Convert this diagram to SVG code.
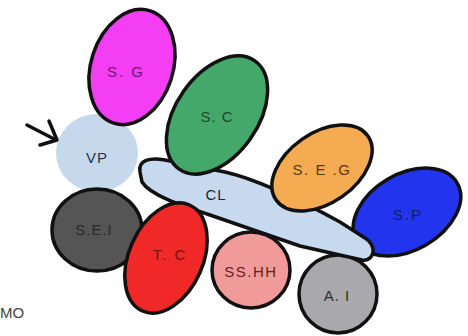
<svg xmlns="http://www.w3.org/2000/svg" width="468" height="336" viewBox="0 0 468 336">
<style>
.n{stroke:#111;stroke-width:3.5}
.t{font-family:"Liberation Sans",Arial,sans-serif;font-size:15px;text-anchor:middle;letter-spacing:1px}
</style>
<rect width="468" height="336" fill="#ffffff"/>
<g id="VP"><ellipse cx="97" cy="153" rx="41" ry="39" fill="#c6d9ec"/><text class="t" x="97" y="163" fill="#2a3440">VP</text></g>
<g id="SG"><ellipse class="n" cx="132" cy="67" rx="41" ry="59" transform="rotate(18 132 67)" fill="#f43ef4"/><text class="t" x="126" y="77" fill="#6e1a70" style="letter-spacing:2px">S. G</text></g>
<g id="SP"><ellipse class="n" cx="407" cy="212" rx="58" ry="38" transform="rotate(-30 407 212)" fill="#2234ee"/><text class="t" x="408" y="220" fill="#101e66" style="letter-spacing:2px">S.P</text></g>
<g id="AI"><ellipse class="n" cx="338" cy="294" rx="39" ry="39" fill="#a9a9ad"/><text class="t" x="337" y="301" fill="#2e2e30">A. I</text></g>
<g id="CL"><path class="n" d="M140,172 C138,160 150,157 165,160 L225,172 C260,180 300,200 340,222 L365,238 C378,246 374,262 362,260 L300,246 L210,215 C180,205 150,195 142,182 Z" fill="#c6d9ee"/><text class="t" x="216" y="200" fill="#1a2430">CL</text></g>
<g id="SC"><ellipse class="n" cx="217" cy="115" rx="41" ry="66" transform="rotate(35 217 115)" fill="#44a86a"/><text class="t" x="217" y="122" fill="#1c4a2c">S. C</text></g>
<g id="SEG"><ellipse class="n" cx="322" cy="168" rx="56" ry="35" transform="rotate(-35 322 168)" fill="#f5ab52"/><text class="t" x="322" y="175" fill="#5a3a12" style="letter-spacing:1.5px">S. E .G</text></g>
<g id="SEI"><ellipse class="n" cx="97" cy="230" rx="45" ry="41" fill="#555555"/><text class="t" x="94" y="235" fill="#2a2a2a">S.E.I</text></g>
<g id="TC"><ellipse class="n" cx="166" cy="258" rx="37" ry="58" transform="rotate(24 166 258)" fill="#f02828"/><text class="t" x="170" y="260" fill="#7e1010" style="letter-spacing:2px">T. C</text></g>
<g id="SSHH"><ellipse class="n" cx="251" cy="270" rx="39" ry="38" fill="#f09a9a"/><text class="t" x="251" y="277" fill="#6a2020" style="letter-spacing:1.5px">SS.HH</text></g>
<g id="connectors"><line x1="27" y1="125" x2="56" y2="140" stroke="#111" stroke-width="3.5" stroke-linecap="round"/><polyline points="49,121 57,140 40,145" fill="none" stroke="#111" stroke-width="3.5" stroke-linecap="round" stroke-linejoin="round"/></g>
<text x="0" y="318" font-family="Liberation Sans, Arial, sans-serif" font-size="15" fill="#444">MO</text>
</svg>
